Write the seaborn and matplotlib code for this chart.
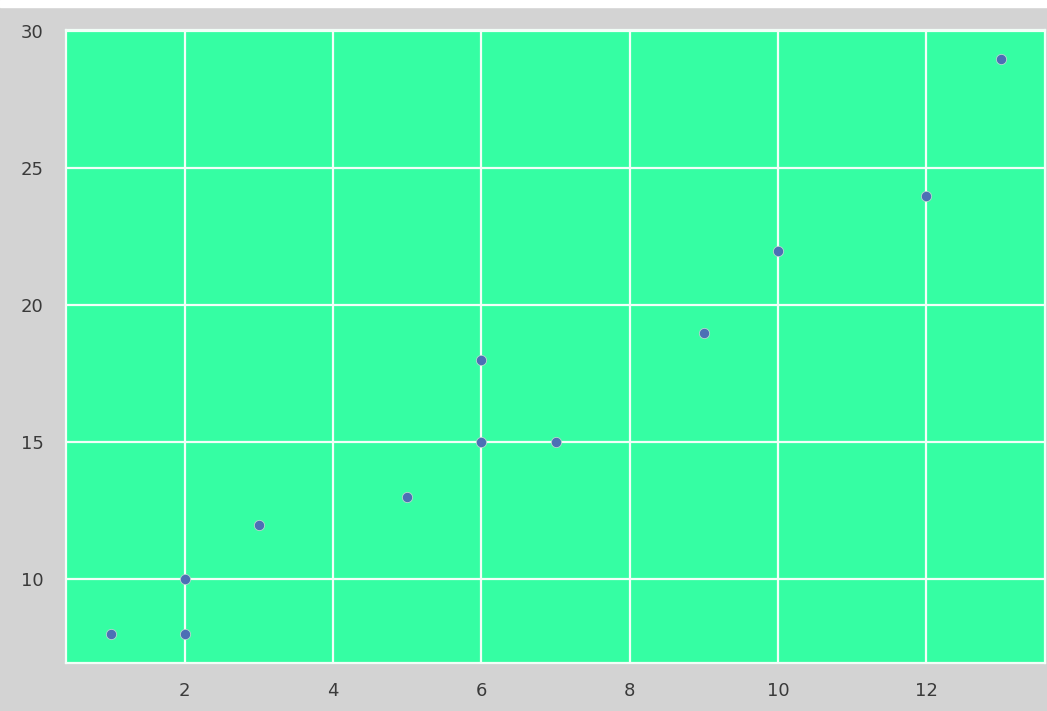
import pandas as pd
import matplotlib.pyplot as plt
import seaborn as sns

# valores
x_vals = [1, 2, 2, 3, 5, 6, 6, 7, 9, 10, 12, 13]
y_vals = [8, 10, 8, 12, 13, 18, 15, 15, 19, 22, 24, 29]

df = pd.DataFrame({'x': x_vals, 'y': y_vals})

sns.set_theme(style='darkgrid', rc={
    'axes.facecolor': '#35fea3',
    'figure.facecolor': '#d3d3d3',
    'grid.color': '#f2fff8',
    'grid.linewidth': 1.6,
    'axes.edgecolor': '#f2fff8',
    'axes.linewidth': 1.6,
    'xtick.labelsize': 13,
    'ytick.labelsize': 13,
    'xtick.major.pad': 8,
    'ytick.major.pad': 10,
    'xtick.color': '#3a3a3a',
    'ytick.color': '#3a3a3a',
})
plt.rcParams['font.family'] = ['DejaVu Sans']

fig = plt.figure(figsize=(10.47, 7.11), dpi=100)
ax = fig.add_axes([66 / 1047, 1 - 663 / 711, (1045 - 66) / 1047, (663 - 30) / 711])

# faixa branca no topo
fig.patches.append(plt.Rectangle((0, 1 - 7 / 711), 1, 7 / 711,
                                 transform=fig.transFigure, color='white', zorder=0))

sns.scatterplot(x='x', y='y', data=df, ax=ax, s=55, color='#4c6fb5',
                edgecolor='#b8d8d0', linewidth=0.6)
ax.set_xlabel('')
ax.set_ylabel('')
ax.set_xticks([2, 4, 6, 8, 10, 12])
ax.set_yticks([10, 15, 20, 25, 30])

fig.savefig('out.png', dpi=100, facecolor=fig.get_facecolor())
